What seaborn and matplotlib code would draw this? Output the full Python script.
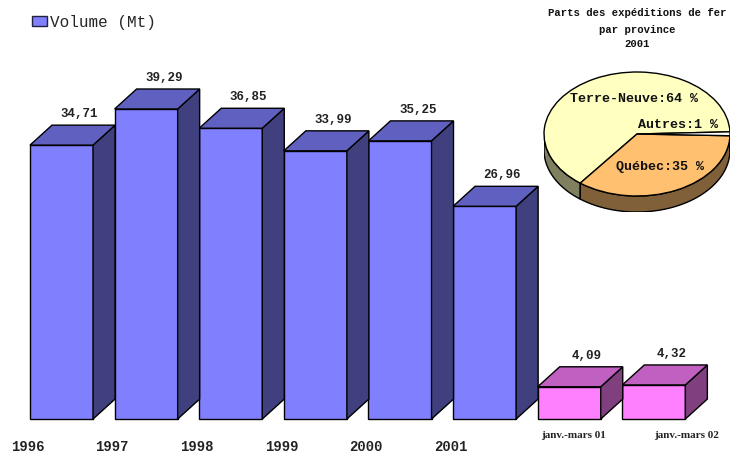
import numpy as np
import pandas as pd
import matplotlib
matplotlib.use("Agg")
import matplotlib.pyplot as plt
from matplotlib.patches import Polygon, Patch
import seaborn as sns

# Shipments of iron ore (Mt)
categories = ["1996", "1997", "1998", "1999", "2000", "2001",
              "janv.-mars 01", "janv.-mars 02"]
volumes = [34.71, 39.29, 36.85, 33.99, 35.25, 26.96, 4.09, 4.32]
value_labels = ["34,71", "39,29", "36,85", "33,99", "35,25", "26,96",
                "4,09", "4,32"]

# 2001 shares by province
pie_labels = ["Terre-Neuve:64 %", "Québec:35 %", "Autres:1 %"]
pie_shares = [64, 35, 1]

sns.set_theme(style="white")
plt.rcParams["font.family"] = ["Liberation Mono", "DejaVu Sans"]

W, H = 730, 455
fig = plt.figure(figsize=(W / 100, H / 100), dpi=100)
fig.patch.set_facecolor("white")

ax = fig.add_axes([0, 0, 1, 1])
df = pd.DataFrame({"cat": categories, "vol": volumes})

front = ["#8080FF"] * 6 + ["#FF80FF"] * 2
top = ["#6060C0"] * 6 + ["#C060C0"] * 2
side = ["#40407F"] * 6 + ["#804080"] * 2

sns.barplot(data=df, x="cat", y="vol", hue="cat", palette=front,
            width=0.745, edgecolor="#000000", linewidth=1.0,
            legend=False, ax=ax, saturation=1)

ax.set_xlim(-0.727, 7.90)
ax.set_ylim(-4.56, 53.1)
ax.axis("off")

# depth of the boxes, in data units
dx, dy = 0.26, 2.53
for i, p in enumerate(ax.patches[:len(categories)]):
    x0 = p.get_x()
    w = p.get_width()
    h = p.get_height()
    x1 = x0 + w
    top_face = [(x0, h), (x1, h), (x1 + dx, h + dy), (x0 + dx, h + dy)]
    side_face = [(x1, 0), (x1 + dx, dy), (x1 + dx, h + dy), (x1, h)]
    ax.add_patch(Polygon(side_face, closed=True, facecolor=side[i],
                         edgecolor="black", lw=1.0, zorder=p.get_zorder()))
    ax.add_patch(Polygon(top_face, closed=True, facecolor=top[i],
                         edgecolor="black", lw=1.0, zorder=p.get_zorder()))
    ax.text(x0 + w / 2 + 0.21, h + dy + 1.4, value_labels[i],
            ha="center", va="center", fontsize=9, fontweight="bold",
            color="#222222")

# category labels under the boxes
year_dx = -0.40
for i, c in enumerate(categories[:6]):
    ax.text(i + year_dx, -3.55, c, ha="center", va="center",
            fontsize=10, fontweight="bold", color="#222222")
quarter_pos = [6.05, 7.38]
for c, xp in zip(categories[6:], quarter_pos):
    ax.text(xp, -2.15, c, ha="center", va="center", fontsize=8,
            fontweight="bold", family=["Liberation Serif", "DejaVu Serif"],
            color="#222222")

# legend
ax.legend(handles=[Patch(facecolor="#8080FF", edgecolor="#202040",
                         linewidth=1.0)],
          labels=["Volume (Mt)"], loc="center left",
          bbox_to_anchor=(32 / W, 1 - 22 / H), frameon=False,
          borderpad=0, borderaxespad=0,
          handlelength=0.95, handleheight=0.65, handletextpad=0.2,
          prop={"family": "Liberation Mono", "size": 11.5})

# pie of provincial shares, drawn with a visible rim
cx, cy, rx, ry, depth = 637, 134, 93, 62, 16
d = depth / ry
pax = fig.add_axes([(cx - rx) / W, 1 - (cy + ry + depth) / H,
                    2 * rx / W, (2 * ry + depth) / H])
pie_top = ["#FFFFC0", "#FFC070", "#FFFFFF"]
pie_side = ["#808060", "#806038", "#909090"]
start = 2.0
wedges, _ = pax.pie(pie_shares, colors=pie_top, startangle=start,
                    counterclock=True, radius=1,
                    wedgeprops=dict(edgecolor="black", linewidth=1.0))
for wdg in wedges:
    wdg.set_zorder(3)

angle = start
for share, col in zip(pie_shares, pie_side):
    a0, a1 = angle, angle + share * 3.6
    angle = a1
    # clip the wedge to the front (lower) half of the ellipse
    for k in range(-1, 2):
        lo = max(a0, 180 + 360 * k)
        hi = min(a1, 360 + 360 * k)
        if hi <= lo:
            continue
        t = np.radians(np.linspace(lo, hi, 60))
        up = np.column_stack([np.cos(t), np.sin(t)])
        dn = np.column_stack([np.cos(t[::-1]), np.sin(t[::-1]) - d])
        pax.add_patch(Polygon(np.vstack([up, dn]), closed=True,
                              facecolor=col, edgecolor="black",
                              lw=1.0, zorder=2))
pax.set_aspect("auto")
pax.set_xlim(-1, 1)
pax.set_ylim(-1 - d, 1)
pax.axis("off")


def fig_text(px, py, s, **kw):
    fig.text(px / W, 1 - py / H, s, ha="center", va="center", **kw)


fig_text(634, 99, pie_labels[0], fontsize=9.6, fontweight="bold",
         color="#111111", zorder=5)
fig_text(678, 125, pie_labels[2], fontsize=9.6, fontweight="bold",
         color="#111111", zorder=5)
fig_text(660, 167, pie_labels[1], fontsize=9.6, fontweight="bold",
         color="#111111", zorder=5)

for yy, line in zip([13, 30, 44], ["Parts des expéditions de fer",
                                   "par province", "2001"]):
    fig_text(637, yy, line, fontsize=7.7, fontweight="bold",
             color="#111111")

fig.savefig("out.png", dpi=100)
